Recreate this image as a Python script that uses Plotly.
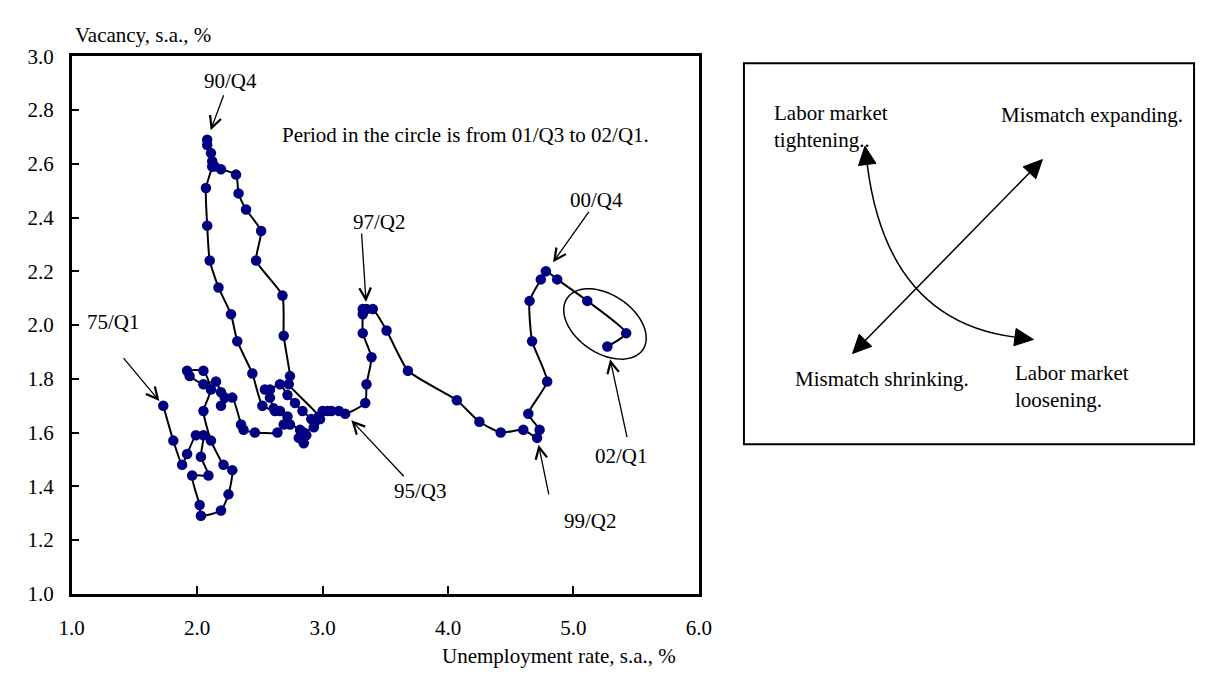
import math
import plotly.graph_objects as go

# ---- figure geometry (pixels) ----
W, H = 1209, 681
PL, PR, PT, PB = 60, 701, 46, 603          # plot area of the UV chart
X_RANGE = (1.0, 6.0)
Y_RANGE = (1.0, 3.0)
FONT = "Liberation Serif, Times New Roman, serif"
FS = 21

# ---- data: quarterly, 1975/Q1 - 2002/Q1 ----
quarters = [f"{(75 + i // 4) % 100:02d}/Q{i % 4 + 1}" for i in range(109)]

unemployment = [
    1.73, 1.81, 1.88, 1.92, 1.99, 2.05, 2.03, 2.09, 1.96, 2.02,
    2.03, 2.19, 2.25, 2.28, 2.21, 2.11, 2.05, 2.11, 2.05, 1.92,
    1.94, 2.05, 2.15, 2.19, 2.22, 2.19, 2.28, 2.35, 2.37, 2.46,
    2.64, 2.69, 2.74, 2.82, 2.81, 2.85, 2.87, 2.85, 2.93, 2.91,
    2.84, 2.78, 2.72, 2.66, 2.58, 2.54, 2.58, 2.61, 2.66, 2.72,
    2.62, 2.52, 2.44, 2.32, 2.27, 2.17, 2.10, 2.08, 2.07, 2.12,
    2.12, 2.11, 2.08, 2.08, 2.14, 2.19, 2.31, 2.33, 2.39, 2.51,
    2.47, 2.68, 2.69, 2.74, 2.73, 2.97, 2.94, 2.98, 3.00, 3.04,
    3.07, 3.13, 3.18, 3.34, 3.35, 3.39, 3.32, 3.32, 3.32, 3.35,
    3.40, 3.51, 3.68, 4.07, 4.25, 4.42, 4.60, 4.71, 4.73, 4.64,
    4.79, 4.67, 4.65, 4.74, 4.78, 4.87, 5.11, 5.42, 5.27,
]

vacancy = [
    1.70, 1.57, 1.48, 1.52, 1.59, 1.59, 1.51, 1.44, 1.44, 1.33,
    1.29, 1.31, 1.37, 1.46, 1.48, 1.57, 1.68, 1.76, 1.83, 1.83,
    1.81, 1.78, 1.79, 1.75, 1.73, 1.70, 1.73, 1.63, 1.61, 1.60,
    1.60, 1.63, 1.63, 1.61, 1.58, 1.56, 1.59, 1.60, 1.62, 1.65,
    1.68, 1.71, 1.74, 1.78, 1.76, 1.76, 1.73, 1.69, 1.68, 1.66,
    1.68, 1.70, 1.82, 1.94, 2.04, 2.14, 2.24, 2.37, 2.51, 2.59,
    2.61, 2.64, 2.67, 2.69, 2.59, 2.58, 2.56, 2.49, 2.43, 2.35,
    2.24, 2.11, 1.96, 1.81, 1.78, 1.66, 1.64, 1.65, 1.68, 1.68,
    1.68, 1.68, 1.67, 1.71, 1.78, 1.88, 1.97, 2.04, 2.06, 2.06,
    2.06, 1.98, 1.83, 1.72, 1.64, 1.60, 1.61, 1.58, 1.61, 1.67,
    1.79, 1.94, 2.09, 2.17, 2.20, 2.17, 2.09, 1.97, 1.92,
]

# labelled quarters: (quarter, tail dx, tail dy, standoff, label centre px)
callouts = [
    ("75/Q1", -41, -49, 6, (103, 321)),
    ("90/Q4", 17, -46, 10, (222, 72)),
    ("95/Q3", 60, 64, 9, (416, 497)),
    ("97/Q2", -5, -77, 7, (375, 218)),
    ("99/Q2", 12, 58, 7, (590, 528)),
    ("00/Q4", 49, -69, 21, (596, 195)),
    ("02/Q1", 20, 92, 13, (622, 460)),
]
circled = ["01/Q3", "01/Q4", "02/Q1"]


def paper(px, py):
    return px / W, 1 - py / H


def to_px(x, y):
    px = PL + (x - X_RANGE[0]) / (X_RANGE[1] - X_RANGE[0]) * (PR - PL)
    py = PB - (y - Y_RANGE[0]) / (Y_RANGE[1] - Y_RANGE[0]) * (PB - PT)
    return px, py


def path_from_px(points, close=False):
    parts = []
    for k, (px, py) in enumerate(points):
        x, y = paper(px, py)
        parts.append(("M" if k == 0 else "L") + f"{x:.5f},{y:.5f}")
    return " ".join(parts) + (" Z" if close else "")


def head(tip, direction, length=19, half=9):
    ux, uy = direction
    n = math.hypot(ux, uy)
    ux, uy = ux / n, uy / n
    bx, by = tip[0] - length * ux, tip[1] - length * uy
    nx, ny = -uy, ux
    return [tip, (bx + half * nx, by + half * ny), (bx - half * nx, by - half * ny)]


fig = go.Figure()

fig.add_trace(go.Scatter(
    x=unemployment, y=vacancy, text=quarters,
    mode="lines+markers",
    line=dict(color="black", width=2, shape="spline", smoothing=0.5),
    marker=dict(color="#000080", size=10.5, line=dict(width=0)),
    hovertemplate="%{text}<br>u=%{x:.2f}%<br>v=%{y:.2f}%<extra></extra>",
    showlegend=False,
))

annotations = []
for q, dx, dy, so, (lx, ly) in callouts:
    i = quarters.index(q)
    annotations.append(dict(
        x=unemployment[i], y=vacancy[i], xref="x", yref="y",
        ax=dx, ay=dy, text="", showarrow=True,
        arrowhead=5, arrowsize=1.75, arrowwidth=1.3, arrowcolor="black",
        standoff=so,
    ))
    x, y = paper(lx, ly)
    annotations.append(dict(
        x=x, y=y, xref="paper", yref="paper", text=q, showarrow=False,
        xanchor="center", yanchor="middle", font=dict(family=FONT, size=FS, color="black"),
    ))


def text_at(px, py, s, anchor="center"):
    x, y = paper(px, py)
    annotations.append(dict(
        x=x, y=y, xref="paper", yref="paper", text=s, showarrow=False,
        xanchor=anchor, yanchor="middle", align="left",
        font=dict(family=FONT, size=FS, color="black"),
    ))


text_at(462, 128, "Period in the circle is from 01/Q3 to 02/Q1.")
text_at(61, 24, "Vacancy, s.a., %", "left")
text_at(558, 668, "Unemployment rate, s.a., %")

# diagram panel
text_at(776, 119, "Labor market<br>tightening..", "left")
text_at(1008, 107, "Mismatch expanding.", "left")
text_at(797, 380, "Mismatch shrinking.", "left")
text_at(1022, 388, "Labor market<br>loosening.", "left")

shapes = []

# ellipse around the last quarters
idx = [quarters.index(q) for q in circled]
cx = sum(unemployment[i] for i in idx) / len(idx)
cy = sum(vacancy[i] for i in idx) / len(idx)
cpx, cpy = to_px(cx, cy)
a, b, th = 47, 30, math.radians(35)
ell = []
for k in range(73):
    t = 2 * math.pi * k / 72
    ex = a * math.cos(t) * math.cos(th) - b * math.sin(t) * math.sin(th)
    ey = a * math.cos(t) * math.sin(th) + b * math.sin(t) * math.cos(th)
    ell.append((cpx - 2 + ex, cpy - 3 + ey))
shapes.append(dict(type="path", xref="paper", yref="paper", path=path_from_px(ell, True),
                   line=dict(color="black", width=1.5)))

# panel frame
x0, y0 = paper(747, 448)
x1, y1 = paper(1207, 53)
shapes.append(dict(type="rect", xref="paper", yref="paper", x0=x0, y0=y0, x1=x1, y1=y1,
                   line=dict(color="black", width=2), fillcolor="rgba(0,0,0,0)"))

# straight double arrow
t1, t2 = (858, 354), (1052, 153)
d = (t2[0] - t1[0], t2[1] - t1[1])
L = 19
nd = math.hypot(*d)
ux, uy = d[0] / nd, d[1] / nd
s1 = (t1[0] + L * ux, t1[1] + L * uy)
s2 = (t2[0] - L * ux, t2[1] - L * uy)
shapes.append(dict(type="path", xref="paper", yref="paper", path=path_from_px([s1, s2]),
                   line=dict(color="black", width=1.5)))
for tip, dd in ((t1, (-d[0], -d[1])), (t2, d)):
    shapes.append(dict(type="path", xref="paper", yref="paper", path=path_from_px(head(tip, dd), True),
                       fillcolor="black", line=dict(color="black", width=1)))

# curved double arrow
p0, p1, p2 = (873, 158), (893, 320), (1024, 337)
q0, q1, q2 = paper(*p0), paper(*p1), paper(*p2)
shapes.append(dict(type="path", xref="paper", yref="paper",
                   path=f"M{q0[0]:.5f},{q0[1]:.5f} Q{q1[0]:.5f},{q1[1]:.5f} {q2[0]:.5f},{q2[1]:.5f}",
                   line=dict(color="black", width=1.5)))
for base, ctrl in ((p0, p1), (p2, p1)):
    dd = (base[0] - ctrl[0], base[1] - ctrl[1])
    n = math.hypot(*dd)
    tip = (base[0] + L * dd[0] / n, base[1] + L * dd[1] / n)
    shapes.append(dict(type="path", xref="paper", yref="paper", path=path_from_px(head(tip, dd), True),
                       fillcolor="black", line=dict(color="black", width=1)))

axis_common = dict(
    showline=True, linecolor="black", linewidth=2.5, mirror=True,
    ticks="inside", ticklen=8, tickwidth=1.5, tickcolor="black",
    showgrid=False, zeroline=False, tickformat=".1f",
    tickfont=dict(family=FONT, size=FS, color="black"),
)

fig.update_layout(
    width=W, height=H,
    margin=dict(l=0, r=0, t=0, b=0),
    paper_bgcolor="white", plot_bgcolor="white",
    xaxis=dict(range=list(X_RANGE), dtick=1.0, domain=[PL / W, PR / W],
               ticklabelstandoff=13, **axis_common),
    yaxis=dict(range=list(Y_RANGE), dtick=0.2, domain=[1 - PB / H, 1 - PT / H],
               ticklabelstandoff=11, **axis_common),
    annotations=annotations,
    shapes=shapes,
)

fig.write_html("out.html")
